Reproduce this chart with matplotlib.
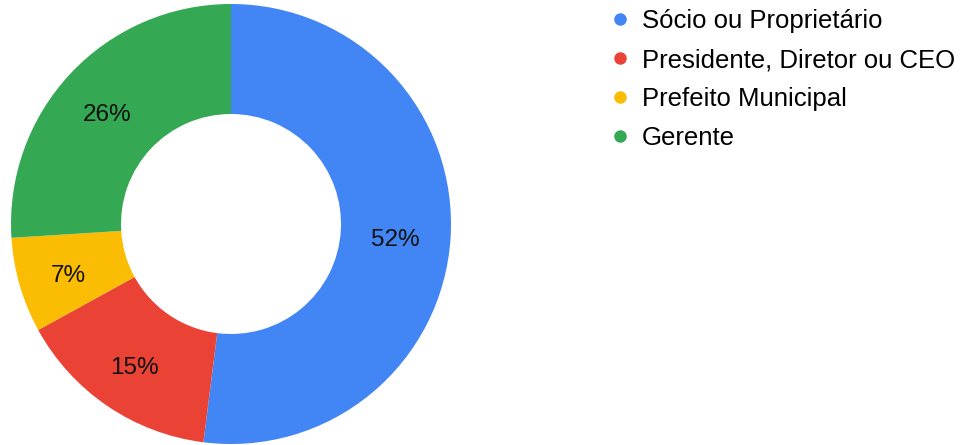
import matplotlib
matplotlib.use("Agg")
import matplotlib.pyplot as plt
from matplotlib.lines import Line2D

plt.rcParams['font.family'] = ['Liberation Sans', 'DejaVu Sans']

categories = ["Sócio ou Proprietário", "Presidente, Diretor ou CEO",
              "Prefeito Municipal", "Gerente"]
values = [52, 15, 7, 26]
colors = ["#4285F4", "#EA4335", "#FBBC04", "#34A853"]

fig = plt.figure(figsize=(9.67, 4.45), dpi=100)
ax = fig.add_axes([11 / 967, 1 / 445, 440 / 967, 440 / 445])

wedges, texts, autotexts = ax.pie(
    values, colors=colors, startangle=90, counterclock=False,
    radius=1.0, wedgeprops=dict(width=0.5, edgecolor='none'),
    autopct=lambda p: f"{p:.0f}%", pctdistance=0.76,
    textprops=dict(fontsize=17.5, color="#111111"))
# nudge labels slightly down, like the original
for t in autotexts:
    x, y = t.get_position()
    t.set_position((x - 0.01, y - 0.025))
ax.set_xlim(-1, 1)
ax.set_ylim(-1, 1)
ax.set_aspect('equal')
ax.axis('off')

handles = [Line2D([0], [0], marker='o', linestyle='none', markersize=9,
                  markerfacecolor=c, markeredgecolor='none') for c in colors]
fig.legend(handles, categories, loc='upper left',
           bbox_to_anchor=(601 / 967, 1 + 1 / 445), frameon=False,
           fontsize=18.5, handlelength=0.7, handletextpad=0.5,
           labelspacing=0.58, borderaxespad=0)

fig.savefig("out.png", dpi=100, facecolor='white')
